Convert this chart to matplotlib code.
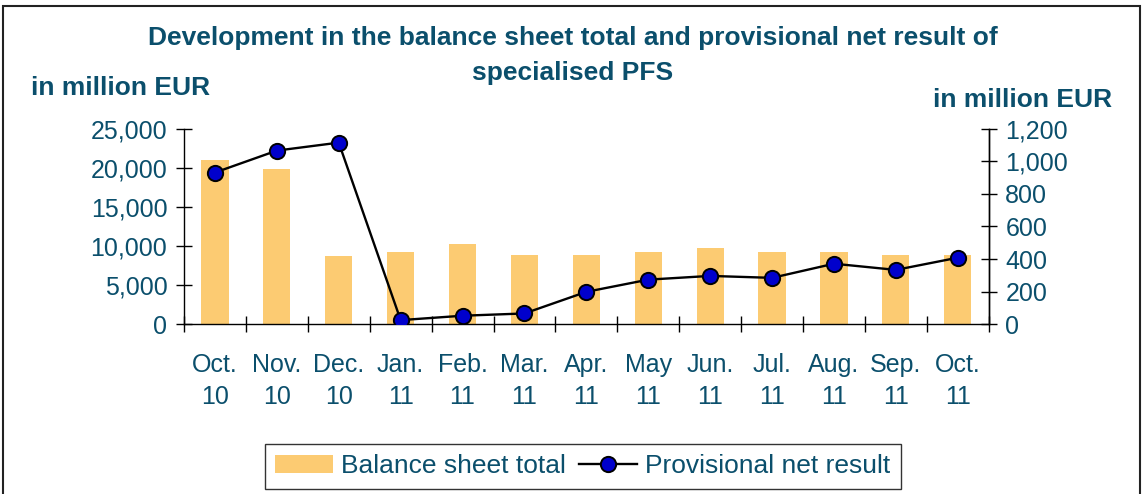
import matplotlib.pyplot as plt
from matplotlib.patches import Rectangle
from matplotlib.ticker import FuncFormatter
import numpy as np

months = ['Oct.\n10', 'Nov.\n10', 'Dec.\n10', 'Jan.\n11', 'Feb.\n11', 'Mar.\n11', 'Apr.\n11',
          'May\n11', 'Jun.\n11', 'Jul.\n11', 'Aug.\n11', 'Sep.\n11', 'Oct.\n11']
balance = [21000, 19900, 8700, 9200, 10300, 8800, 8800, 9200, 9700, 9200, 9200, 8800, 8800]
net_result = [932, 1067, 1116, 24, 51, 65, 198, 273, 296, 284, 371, 333, 408]

txt = '#0b4f6c'
plt.rcParams['font.family'] = ['Liberation Sans', 'DejaVu Sans']

fig = plt.figure(figsize=(11.45, 4.94), dpi=100)
ax = fig.add_axes([0.1607, 0.3441, 0.7028, 0.3948])
ax2 = ax.twinx()

x = np.arange(len(months))
bars = ax.bar(x, balance, width=0.44, color='#fccb72', label='Balance sheet total', zorder=1)
line, = ax2.plot(x, net_result, color='black', lw=1.7, marker='o', ms=11,
                 mfc='#0000cc', mec='black', mew=1.4, label='Provisional net result')

ax.set_xlim(-0.5, 12.5)
ax.set_ylim(0, 25000)
ax2.set_ylim(0, 1200)
ax.set_yticks(range(0, 25001, 5000))
ax2.set_yticks(range(0, 1201, 200))
fmt = FuncFormatter(lambda v, p: f'{int(v):,}')
ax.yaxis.set_major_formatter(fmt)
ax2.yaxis.set_major_formatter(fmt)

ax.set_xticks(x)
ax.set_xticklabels(months, fontsize=18, color=txt, linespacing=1.4)
ax.tick_params(axis='x', which='major', length=0, pad=21)
ax.set_xticks(np.arange(-0.5, 13, 1), minor=True)
ax.tick_params(axis='x', which='minor', direction='inout', length=12, width=1)
ax.tick_params(axis='y', direction='inout', length=12, width=1, labelsize=18, labelcolor=txt, pad=6)
ax2.tick_params(axis='y', direction='inout', length=12, width=1, labelsize=18, labelcolor=txt, pad=6)

for a in (ax, ax2):
    a.spines['top'].set_visible(False)
    for s in a.spines.values():
        s.set_linewidth(1)
ax2.spines['left'].set_visible(False)
ax2.spines['bottom'].set_visible(False)

# title in two separate lines
fig.text(0.5, 0.923, 'Development in the balance sheet total and provisional net result of',
         ha='center', va='center', fontsize=19, fontweight='bold', color=txt)
fig.text(0.5, 0.853, 'specialised PFS',
         ha='center', va='center', fontsize=19, fontweight='bold', color=txt)
fig.text(0.027, 0.822, 'in million EUR', ha='left', va='center', fontsize=19, fontweight='bold', color=txt)
fig.text(0.971, 0.797, 'in million EUR', ha='right', va='center', fontsize=19, fontweight='bold', color=txt)

leg = fig.legend([bars, line], ['Balance sheet total', 'Provisional net result'],
                 loc='center', bbox_to_anchor=(0.509, 0.0557), ncol=2, fontsize=19,
                 frameon=True, fancybox=False, edgecolor='black', handlelength=2.2,
                 handletextpad=0.3, columnspacing=0.5, borderpad=0.4, labelcolor=txt)
leg.get_frame().set_linewidth(1)

fig.patches.append(Rectangle((0.0024, -0.1), 0.9935, 1.0879, transform=fig.transFigure,
                             fill=False, edgecolor='#222222', lw=1.5))

fig.savefig('out.png', dpi=100)
